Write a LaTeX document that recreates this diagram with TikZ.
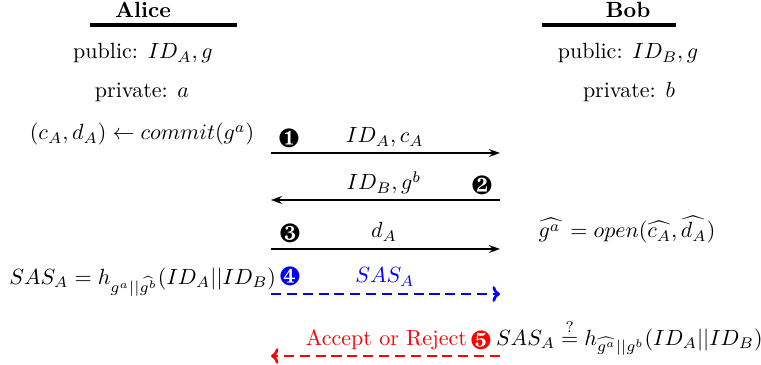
\documentclass[tikz,border=0pt]{standalone}
\usepackage{amsmath}
\usepackage{pifont}
\usetikzlibrary{arrows.meta}
\begin{document}
\begin{tikzpicture}[x=0.4545pt,y=-0.4545pt,
  every node/.style={inner sep=0pt,outer sep=0pt},
  party/.style={font=\bfseries,anchor=base},
  uline/.style={line width=1.4pt},
  txt/.style={anchor=base},
  msg/.style={line width=0.7pt,-{Stealth[length=5pt,width=3.6pt]}},
  dmsg/.style={line width=1.2pt,dash pattern=on 4.6pt off 2.6pt,-{To[scale=0.8]}},
  num/.style={anchor=center,font=\large}]
\useasboundingbox (0,0) rectangle (761,365);
% parties
\node[party] (alice) at (143,18) {Alice};
\coordinate (al1) at (90,25); \coordinate (al2) at (237,25);
\draw[uline] (al1) -- (al2);
\node[party] (bob) at (628,18) {Bob};
\coordinate (bl1) at (542,25); \coordinate (bl2) at (676,25);
\draw[uline] (bl1) -- (bl2);
\node[txt] (pubA) at (143,59) {public: $ID_A, g$};
\node[txt] (pubB) at (628,59) {public: $ID_B, g$};
\node[txt] (privA) at (142,98) {private: $a$};
\node[txt] (privB) at (629,98) {private: $b$};
\node[txt] (commit) at (142,140) {$(c_A,d_A)\leftarrow commit(g^a)$};
% lifelines
\coordinate (A1) at (271,153); \coordinate (B1) at (500,153);
\coordinate (A2) at (271,200); \coordinate (B2) at (500,200);
\coordinate (A3) at (271,249); \coordinate (B3) at (500,249);
\coordinate (A4) at (271,294); \coordinate (B4) at (500,294);
\coordinate (A5) at (271,356); \coordinate (B5) at (500,356);
% message 1
\draw[msg] (A1) -- (B1);
\node[num] (n1) at (289,138) {\ding{182}};
\node[txt] (m1) at (385,143) {$ID_A, c_A$};
% message 2
\draw[msg] (B2) -- (A2);
\node[num] (n2) at (482,185) {\ding{183}};
\node[txt] (m2) at (384,190) {$ID_B, g^b$};
% message 3
\draw[msg] (A3) -- (B3);
\node[num] (n3) at (290,233) {\ding{184}};
\node[txt] (m3) at (384,238) {$d_A$};
\node[txt] (open) at (627,238) {$\widehat{{g^a}\,} = open(\widehat{c_A},\widehat{d_A})$};
% message 4
\draw[dmsg,blue] (A4) -- (B4);
\node[num] (n4) at (290,276) {\textcolor{blue}{\ding{185}}};
\node[txt,text=blue] (m4) at (385,283) {$SAS_A$};
\node[anchor=base east] (sasA) at (276,284) {$SAS_A = h_{g^a||\widehat{g^b}}(ID_A||ID_B)$};
% message 5
\draw[dmsg,red] (B5) -- (A5);
\node[num] (n5) at (481,340) {\textcolor{red}{\ding{186}}};
\node[anchor=base east,text=red] (acc) at (467,345) {Accept or Reject};
\node[anchor=base west] (sasB) at (496,345) {$SAS_A \stackrel{?}{=} h_{\widehat{g^a}||g^b}(ID_A||ID_B)$};
\end{tikzpicture}
\end{document}
